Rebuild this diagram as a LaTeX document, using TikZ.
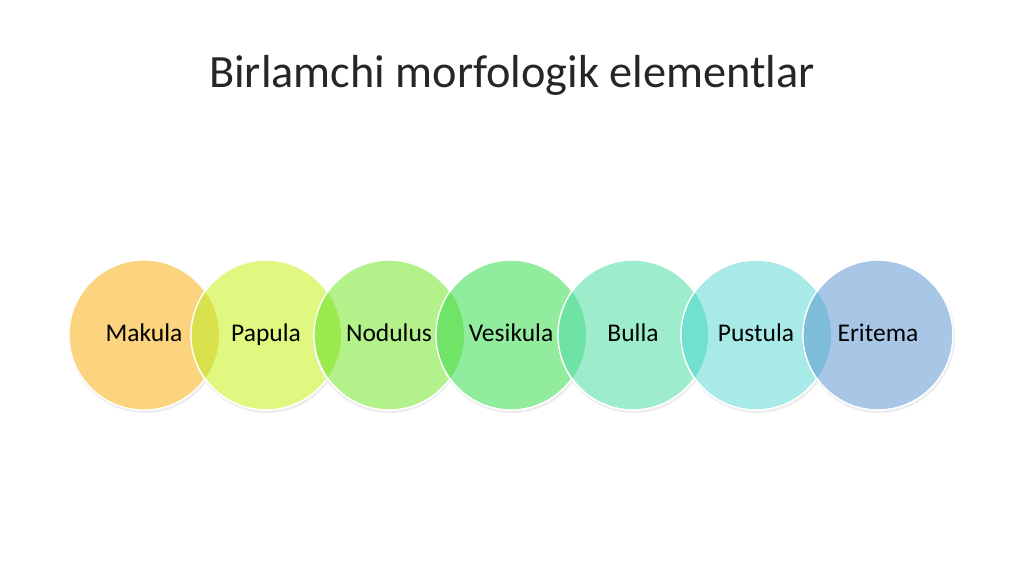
\documentclass[tikz,border=0pt]{standalone}
\usepackage{fontspec}
\setmainfont{Carlito}
\definecolor{cMak}{HTML}{FCD47F}
\definecolor{cPap}{HTML}{E1F880}
\definecolor{cNod}{HTML}{B3F18B}
\definecolor{cVes}{HTML}{92EC9E}
\definecolor{cBul}{HTML}{9DECCB}
\definecolor{cPus}{HTML}{A8EAE8}
\definecolor{cEri}{HTML}{A8C6E6}
\definecolor{oMP}{HTML}{D9E24C}
\definecolor{oPN}{HTML}{9AEA50}
\definecolor{oNV}{HTML}{70E466}
\definecolor{oVB}{HTML}{6FE3A3}
\definecolor{oBP}{HTML}{72E0CF}
\definecolor{oPE}{HTML}{7DBDDA}
\begin{document}
\begin{tikzpicture}[x=1pt,y=-1pt,
  bubble/.style={circle, minimum size=150pt, inner sep=0pt, draw=white, line width=1.2pt,
    font=\fontsize{25.5}{30}\selectfont, text=black, text height=17pt, text depth=5pt},
  rim/.style={draw=white, line width=1.2pt},
  shade/.style={fill=black!7}]
\useasboundingbox (0,0) rectangle (1024,574);
\fill[white] (0,0) rectangle (1024,574);
\node[font=\fontsize{46.3}{52}\selectfont, text=black!85, anchor=base] (title) at (512,87) {Birlamchi morfologik elementlar};
% circles
\fill[shade] (145,337) circle (76);
\node[bubble, fill=cMak] (mak) at (144,335) {Makula};
\fill[shade] (267,337) circle (76);
\node[bubble, fill=cPap] (pap) at (266,335) {Papula};
\begin{scope}\clip (mak.center) circle (75);\fill[oMP] (pap.center) circle (75);\end{scope}
\draw[rim] (pap.center) circle (75);
\fill[shade] (389,337) circle (76);
\node[bubble, fill=cNod] (nod) at (389,335) {Nodulus};
\begin{scope}\clip (pap.center) circle (75);\fill[oPN] (nod.center) circle (75);\end{scope}
\draw[rim] (nod.center) circle (75);
\fill[shade] (512,337) circle (76);
\node[bubble, fill=cVes] (ves) at (511,335) {Vesikula};
\begin{scope}\clip (nod.center) circle (75);\fill[oNV] (ves.center) circle (75);\end{scope}
\draw[rim] (ves.center) circle (75);
\fill[shade] (634,337) circle (76);
\node[bubble, fill=cBul] (bul) at (633,335) {Bulla};
\begin{scope}\clip (ves.center) circle (75);\fill[oVB] (bul.center) circle (75);\end{scope}
\draw[rim] (bul.center) circle (75);
\fill[shade] (757,337) circle (76);
\node[bubble, fill=cPus] (pus) at (756,335) {Pustula};
\begin{scope}\clip (bul.center) circle (75);\fill[oBP] (pus.center) circle (75);\end{scope}
\draw[rim] (pus.center) circle (75);
\fill[shade] (879,337) circle (76);
\node[bubble, fill=cEri] (eri) at (878,335) {Eritema};
\begin{scope}\clip (pus.center) circle (75);\fill[oPE] (eri.center) circle (75);\end{scope}
\draw[rim] (eri.center) circle (75);
\end{tikzpicture}
\end{document}
